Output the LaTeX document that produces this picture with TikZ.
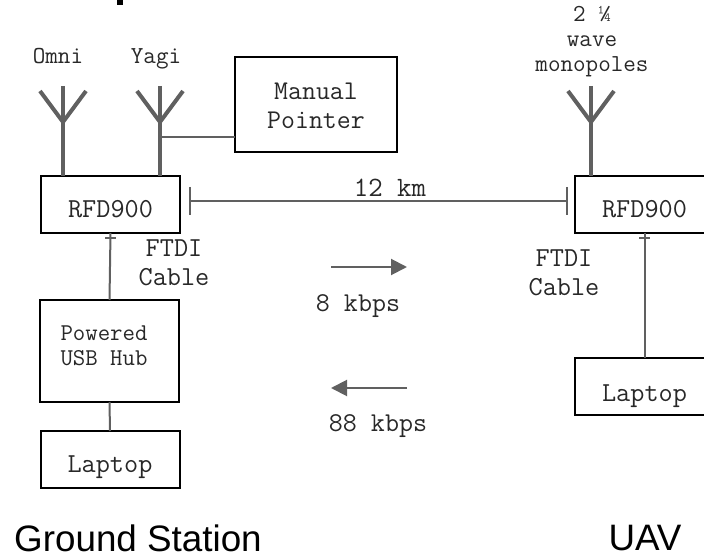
\documentclass[tikz,border=0pt]{standalone}
\usepackage{fontspec}
\usetikzlibrary{arrows.meta,calc,positioning}
\newfontfamily\headfont{Liberation Sans}
\definecolor{wireGray}{RGB}{96,96,96}
\definecolor{inkGray}{RGB}{40,40,40}
% drop text to a given baseline inside a box, without changing the box
\newcommand\dropline[2]{\raisebox{-#1}[0pt][0pt]{#2}}
\newcommand\droppair[4]{\raisebox{-#1}[0pt][0pt]{\vbox{\baselineskip=#2\halign{\hfil##\hfil\cr #3\cr #4\cr}}}}
\tikzset{
  unitbox/.style={draw=black, line width=1.5pt, outer sep=0pt, inner sep=0pt, font=\ttfamily\fontsize{20.6}{24}\selectfont, text=inkGray, align=center},
  tagtext/.style={inner sep=0pt, font=\ttfamily\fontsize{20.6}{21.75}\selectfont, text=inkGray, align=center},
  smalltext/.style={inner sep=0pt, font=\ttfamily\fontsize{18.3}{18.75}\selectfont, text=inkGray, align=center},
  headtext/.style={inner sep=0pt, font=\headfont\fontsize{27.6}{33}\selectfont, text=black},
  wire/.style={wireGray, line width=1.5pt},
  mast/.style={wireGray, line width=3pt},
  flow/.style={wireGray, line width=1.5pt, -{Triangle[length=12pt,width=12pt]}}
}
\begin{document}
\begin{tikzpicture}[x=0.75pt, y=-0.75pt]
  \useasboundingbox (0,0) rectangle (704,556);
  % tail of the clipped heading letter
  \fill[black] (117,0) rectangle (123,5);
  % ground station stack
  \node[unitbox, minimum width=139*0.75pt, minimum height=57*0.75pt] (rfdG) at (110.5,204.5) {\dropline{10.1pt}{RFD900}};
  \node[unitbox, minimum width=162*0.75pt, minimum height=95*0.75pt, font=\ttfamily\fontsize{20.3}{24}\selectfont] (pointer) at (316,104.5) {\droppair{17.8pt}{21.75pt}{Manual}{Pointer}};
  \node[unitbox, minimum width=139*0.75pt, minimum height=102*0.75pt, font=\ttfamily\fontsize{18.1}{21}\selectfont] (hubG) at (109.5,351) {\hspace*{-8.2pt}\droppair{10.5pt}{18.75pt}{Powered}{USB Hub}};
  \node[unitbox, minimum width=139*0.75pt, minimum height=57*0.75pt] (laptopG) at (110,459.5) {\dropline{10.1pt}{Laptop}};
  % UAV stack, running past the right edge
  \node[unitbox, minimum width=139*0.75pt, minimum height=57*0.75pt] (rfdU) at (644.5,204.5) {\dropline{10.1pt}{RFD900}};
  \node[unitbox, minimum width=139*0.75pt, minimum height=57*0.75pt] (laptopU) at (644.5,386.5) {\dropline{11.1pt}{Laptop}};
  % antennas
  \foreach \nm/\xx/\ref in {omni/63/rfdG, yagi/160/rfdG, mono/591/rfdU} {
    \coordinate (\nm Tip) at (\xx,86);
    \coordinate (\nm Fork) at (\xx,122);
    \draw[mast] (\nm Tip) -- (\nm Tip |- \ref.north);
    \draw[mast] ($(\nm Fork)+(-23,-31)$) -- (\nm Fork) -- ($(\nm Fork)+(23,-31)$);
  }
  \node[smalltext, anchor=base] (omniTag) at (58,64) {Omni};
  \node[smalltext, anchor=base] (yagiTag) at (156,64) {Yagi};
  \node[smalltext] (monoTag) at (592,41.5) {2 ¼\\wave\\monopoles};
  % connectors
  \coordinate (yagiTap) at (160,137);
  \draw[wire] (yagiTap) -- (yagiTap -| pointer.west);
  \draw[wire] (rfdG.south) -- (hubG.north);
  \draw[wire] (hubG.south) -- (laptopG.north);
  \draw[wire] (rfdU.south) -- (laptopU.north);
  \foreach \ref in {rfdG, rfdU} {
    \draw[wireGray, line width=1pt] ($(\ref.south)+(-5.5,5)$) -- ($(\ref.south)+(5.5,5)$);
  }
  % link span between the two radios
  \coordinate (spanG) at (189.5,201);
  \coordinate (spanU) at (567,201);
  \draw[wire] (spanG) -- (spanU);
  \draw[wire] ($(spanG)+(0,-14)$) -- ($(spanG)+(0,14)$);
  \draw[wire] ($(spanU)+(0,-14)$) -- ($(spanU)+(0,14)$);
  \node[tagtext, anchor=base, font=\ttfamily\fontsize{21}{24}\selectfont] (spanTag) at (390,197) {12 km};
  % cable tags
  \node[tagtext] (ftdiG) at (174,263) {FTDI\\Cable};
  \node[tagtext] (ftdiU) at (564,272.5) {FTDI\\Cable};
  % data rates
  \coordinate (upStart) at (331,267);
  \coordinate (upEnd) at (407,267);
  \coordinate (downStart) at (407,388);
  \coordinate (downEnd) at (331,388);
  \draw[flow] (upStart) -- (upEnd);
  \draw[flow] (downStart) -- (downEnd);
  \node[smalltext, anchor=base, font=\ttfamily\fontsize{20.4}{24}\selectfont] (upTag) at (358,311.5) {8 kbps};
  \node[smalltext, anchor=base, font=\ttfamily\fontsize{20.4}{24}\selectfont] (downTag) at (378,431) {88 kbps};
  % site names
  \node[headtext] (siteG) at (138,538) {Ground Station};
  \node[headtext] (siteU) at (645,538) {UAV};
\end{tikzpicture}
\end{document}
